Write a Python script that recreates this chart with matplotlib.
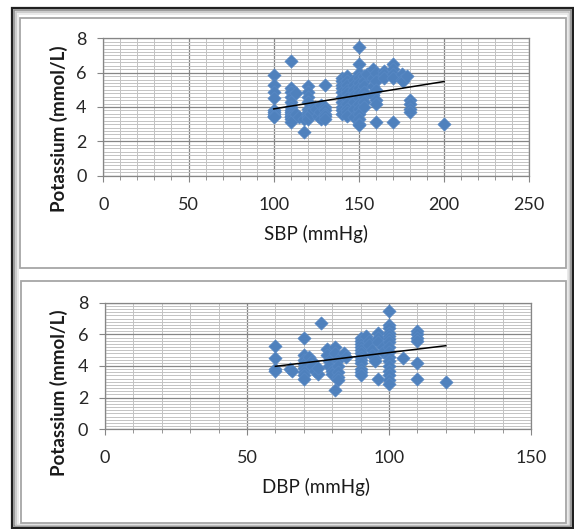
import numpy as np
import matplotlib.pyplot as plt
from matplotlib.patches import Rectangle
from matplotlib.ticker import MultipleLocator

# SBP (mmHg) vs potassium (mmol/L)
sbp = [100, 100, 100, 100, 100, 100, 100, 100, 100, 100,
       110, 110, 110, 110, 110, 110, 110, 110, 110, 110, 110, 110, 110,
       113, 113, 115, 118, 118,
       120, 120, 120, 120, 120, 120, 120, 120, 120, 120,
       122, 123, 124, 125, 126, 127, 128, 128,
       130, 130, 130, 130, 130, 130,
       140, 140, 140, 140, 140, 140, 140, 140, 140, 140,
       143, 143, 143, 143, 143, 143, 143, 143, 143, 143,
       147, 147, 147, 147, 147, 147, 147,
       150, 150, 150, 150, 150, 150, 150, 150, 150, 150, 150, 150, 150, 150,
       153, 153, 153, 153, 153, 153, 153, 155,
       158, 158, 158, 158, 160, 160, 160, 160, 160, 160,
       165, 165, 165,
       170, 170, 170, 170, 170,
       175, 175, 176, 178,
       180, 180, 180, 180,
       200]
k_sbp = [5.85, 5.3, 4.9, 4.5, 3.8, 3.7, 3.6, 3.5, 3.45, 3.4,
         6.7, 5.1, 4.9, 4.6, 4.3, 4.0, 3.8, 3.7, 3.6, 3.5, 3.4, 3.3, 3.15,
         4.8, 3.6, 3.4, 2.55, 3.3,
         5.2, 4.9, 4.6, 4.3, 3.9, 3.7, 3.6, 3.5, 3.4, 3.3,
         3.6, 3.8, 4.0, 3.9, 3.5, 3.7, 4.1, 3.3,
         5.3, 4.0, 3.8, 3.6, 3.5, 3.3,
         5.7, 5.5, 5.3, 5.1, 4.9, 4.6, 4.3, 4.0, 3.8, 3.6,
         5.8, 5.5, 5.3, 5.0, 4.8, 4.5, 4.2, 3.9, 3.7, 3.5,
         5.6, 5.3, 5.0, 4.7, 4.3, 3.9, 3.4,
         7.5, 6.5, 6.0, 5.7, 5.4, 5.1, 4.8, 4.5, 4.2, 3.9, 3.6, 3.3, 3.0, 2.95,
         5.8, 5.5, 5.2, 4.9, 4.6, 4.3, 4.0, 5.9,
         6.2, 5.7, 5.2, 4.7, 6.0, 5.5, 5.0, 4.4, 4.2, 3.15,
         6.1, 5.9, 5.7,
         6.5, 6.2, 5.9, 5.7, 3.15,
         5.9, 5.6, 5.5, 5.8,
         4.4, 4.2, 3.9, 3.7,
         3.0]

# DBP (mmHg) vs potassium (mmol/L)
dbp = [60, 60, 60, 60,
       65, 66,
       70, 70, 70, 70, 70, 70, 70, 70,
       72, 73, 73, 74, 75, 75,
       76,
       78, 78, 79, 79, 80, 80,
       81, 81, 82, 82, 82, 82, 82, 81,
       84, 85,
       90, 90, 90, 90, 90, 90, 90, 90, 90, 90, 90, 90,
       92, 93, 93, 94, 94, 95, 95,
       96, 96, 96, 96,
       98, 98,
       100, 100, 100, 100, 100, 100, 100, 100, 100, 100, 100, 100, 100, 100, 100, 100,
       105,
       110, 110, 110, 110, 110, 110,
       120]
k_dbp = [5.25, 4.5, 3.8, 3.7,
         3.8, 3.7,
         5.8, 4.7, 4.4, 4.1, 3.9, 3.6, 3.4, 3.15,
         4.6, 4.3, 4.0, 3.7, 3.5, 3.9,
         6.7,
         5.1, 4.7, 4.3, 4.0, 3.7, 3.5,
         5.2, 4.8, 4.4, 4.0, 3.6, 3.3, 3.1, 2.5,
         4.8, 4.6,
         5.8, 5.6, 5.4, 5.2, 5.0, 4.8, 4.6, 4.4, 4.2, 3.8, 3.6, 3.4,
         5.9, 5.6, 5.3, 5.0, 4.7, 4.5, 4.3,
         6.1, 5.8, 5.5, 3.15,
         5.2, 4.9,
         7.45, 6.6, 6.4, 6.1, 5.9, 5.7, 5.5, 5.2, 4.9, 4.6, 4.3, 4.0, 3.7, 3.4, 3.1, 2.85,
         4.5,
         6.2, 6.0, 5.8, 5.6, 4.2, 3.2,
         3.0]

W, H = 574, 529
blue = '#4F81BD'
font = ['Lato', 'DejaVu Sans']
plt.rcParams['font.family'] = font

fig = plt.figure(figsize=(W / 100, H / 100), dpi=100)


def box(x0, y0, x1, y1, **kw):
    fig.patches.append(Rectangle((x0 / W, 1 - y1 / H), (x1 - x0) / W, (y1 - y0) / H,
                                 transform=fig.transFigure, zorder=-10, **kw))


# outer frame with a soft bevel, then the two chart panels
box(12, 8, 573, 528, facecolor='white', edgecolor='#202020', lw=1.6)
box(14, 10, 571, 526, facecolor='none', edgecolor='#8a8a8a', lw=1.2)
box(16, 12, 569, 524.5, facecolor='none', edgecolor='#c4c4c4', lw=1.2)
box(18, 14, 567.5, 523.5, facecolor='none', edgecolor='#e6e6e6', lw=1.2)
box(20, 18, 566, 268, facecolor='white', edgecolor='#a6a6a6', lw=1.3)
box(21, 281, 566, 523, facecolor='white', edgecolor='#a6a6a6', lw=1.3)


def panel(rect, x, y, xmax, xlabel, ylab_y, xlab_y):
    ax = fig.add_axes(rect)
    ax.patch.set_alpha(0)
    ax.set_xlim(0, xmax)
    ax.set_ylim(0, 8)
    ax.xaxis.set_major_locator(MultipleLocator(50))
    ax.xaxis.set_minor_locator(MultipleLocator(10))
    ax.yaxis.set_major_locator(MultipleLocator(2))
    ax.yaxis.set_minor_locator(MultipleLocator(0.2))
    ax.grid(which='major', color='#868686', lw=0.9)
    ax.grid(which='minor', color='#c3c3c3', lw=0.7)
    ax.set_axisbelow(True)
    for s in ax.spines.values():
        s.set_color('#868686')
        s.set_linewidth(0.9)
    ax.tick_params(which='major', direction='out', length=4, color='#868686',
                   labelsize=13, labelcolor='#262626')
    ax.tick_params(axis='x', which='major', pad=11)
    ax.tick_params(axis='y', which='major', pad=8)
    ax.tick_params(axis='x', which='minor', direction='out', length=3, color='#868686')
    ax.tick_params(axis='y', which='minor', length=0)

    ax.scatter(x, y, marker='D', s=46, color=blue, edgecolors='#5a8ac6',
               linewidths=0.4, zorder=3)

    # linear trend line fitted to the points
    xa = np.array(x, dtype=float)
    slope, icpt = np.polyfit(xa, y, 1)
    xs = np.array([xa.min(), xa.max()])
    ax.plot(xs, slope * xs + icpt, color='black', lw=1.1, zorder=4)

    fig.text(59 / W, 1 - ylab_y / H, 'Potassium (mmol/L)', rotation=90,
             ha='center', va='center', fontsize=13.5, fontweight='bold', color='#1a1a1a')
    fig.text(316 / W, 1 - xlab_y / H, xlabel, ha='center', va='center',
             fontsize=13.5, color='#1a1a1a')
    return ax


panel([103.3 / W, 1 - 175.7 / H, 426 / W, 137.4 / H], sbp, k_sbp, 250,
      'SBP (mmHg)', 129, 234)
panel([105 / W, 1 - 429.3 / H, 426 / W, 126.6 / H], dbp, k_dbp, 150,
      'DBP (mmHg)', 393, 487)

fig.savefig('out.png', dpi=100)
